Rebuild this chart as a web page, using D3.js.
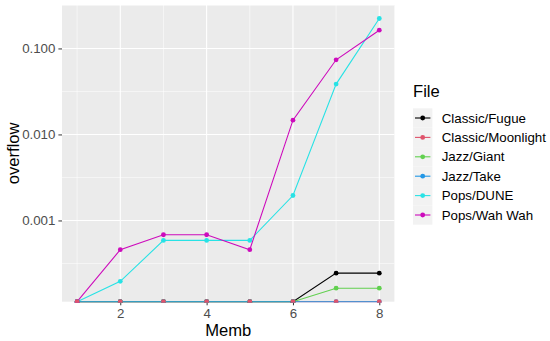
<!DOCTYPE html>
<html>
<head>
<meta charset="utf-8">
<script src="https://cdn.jsdelivr.net/npm/d3@7"></script>
<style>
  body { margin: 0; background: #fff; }
  svg { font-family: "Liberation Sans", Arial, sans-serif; display: block; }
</style>
</head>
<body>
<svg></svg>
<script>
// Data (0 = no overflow, drawn at the bottom edge like -Inf)
const memb = [1, 2, 3, 4, 5, 6, 7, 8];
const files = ["Classic/Fugue", "Classic/Moonlight", "Jazz/Giant", "Jazz/Take", "Pops/DUNE", "Pops/Wah Wah"];
const fugue     = [0, 0, 0, 0, 0, 0, 0.000244, 0.000244];
const moonlight = [0, 0, 0, 0, 0, 0, 0, 0];
const giant     = [0, 0, 0, 0, 0, 0, 0.000163, 0.000163];
const take      = [0, 0, 0, 0, 0, 0, 0, 0];
const dune      = [0, 0.000196, 0.000586, 0.000586, 0.000586, 0.00195, 0.0385, 0.223];
const wahwah    = [0, 0.000457, 0.000682, 0.000682, 0.000457, 0.01466, 0.0738, 0.163];
const xTicks = [2, 4, 6, 8];
const yTicks = [0.001, 0.01, 0.1];
const colors = ["#000000", "#DF536B", "#61D04F", "#2297E6", "#28E2E5", "#CD0BBC"];

const seriesValues = [fugue, moonlight, giant, take, dune, wahwah];
const series = files.map((f, i) => ({
    name: f,
    color: colors[i],
    values: memb.map((m, j) => ({ memb: m, overflow: seriesValues[i][j] }))
}));

const W = 550, H = 341;
const margin = { top: 5, right: 155.6, bottom: 39.3, left: 62 },
      width = W - margin.left - margin.right,
      height = H - margin.top - margin.bottom;

const root = d3.select("svg").attr("width", W).attr("height", H);

const svg = root.append("g")
    .attr("transform", `translate(${margin.left},${margin.top})`);

// x scale with ggplot style 5% expansion
const xPad = (d3.max(memb) - d3.min(memb)) * 0.05;
const x = d3.scaleLinear()
    .domain([d3.min(memb) - xPad, d3.max(memb) + xPad])
    .range([0, width]);

// log y scale from finite (positive) values, expanded 5% in log space
const positives = seriesValues.flat().filter(v => v > 0);
const lo = Math.log10(d3.min(positives)), hi = Math.log10(d3.max(positives));
const yPad = (hi - lo) * 0.05;
const y = d3.scaleLog()
    .domain([Math.pow(10, lo - yPad), Math.pow(10, hi + yPad)])
    .range([height, 0]);
const yPos = v => v > 0 ? y(v) : height;

// panel background
svg.append("rect")
    .attr("width", width).attr("height", height)
    .attr("fill", "#EBEBEB");

// minor grid
const xMinor = [1, 3, 5, 7];
const yMinor = yTicks.map(t => t * Math.sqrt(10)).concat([yTicks[0] / Math.sqrt(10)])
    .filter(v => y(v) >= 0 && y(v) <= height);
svg.append("g").selectAll("line").data(xMinor).join("line")
    .attr("x1", d => x(d)).attr("x2", d => x(d))
    .attr("y1", 0).attr("y2", height)
    .attr("stroke", "#fff").attr("stroke-width", 0.55);
svg.append("g").selectAll("line").data(yMinor).join("line")
    .attr("x1", 0).attr("x2", width)
    .attr("y1", d => y(d)).attr("y2", d => y(d))
    .attr("stroke", "#fff").attr("stroke-width", 0.55);

// major grid
svg.append("g").selectAll("line").data(xTicks).join("line")
    .attr("x1", d => x(d)).attr("x2", d => x(d))
    .attr("y1", 0).attr("y2", height)
    .attr("stroke", "#fff").attr("stroke-width", 1.1);
svg.append("g").selectAll("line").data(yTicks).join("line")
    .attr("x1", 0).attr("x2", width)
    .attr("y1", d => y(d)).attr("y2", d => y(d))
    .attr("stroke", "#fff").attr("stroke-width", 1.1);

// axes
const xAxis = svg.append("g")
    .attr("transform", `translate(0,${height})`)
    .call(d3.axisBottom(x).tickValues(xTicks).tickSize(3.6).tickPadding(3))
    .call(g => g.select(".domain").remove());
xAxis.selectAll(".tick line").attr("stroke", "#333");
xAxis.selectAll("text").attr("fill", "#4D4D4D").style("font-size", "13.3px");

const yAxis = svg.append("g")
    .call(d3.axisLeft(y).tickValues(yTicks).tickFormat(d3.format(".3f")).tickSize(3.6).tickPadding(3))
    .call(g => g.select(".domain").remove());
yAxis.selectAll(".tick line").attr("stroke", "#333");
yAxis.selectAll("text").attr("fill", "#4D4D4D").style("font-size", "13.3px");

// clip to panel (a hair below so the -Inf line stays visible)
svg.append("clipPath").attr("id", "panel")
    .append("rect").attr("width", width).attr("height", height + 1);
const plot = svg.append("g").attr("clip-path", "url(#panel)");

const line = d3.line()
    .x(d => x(d.memb))
    .y(d => yPos(d.overflow));

plot.selectAll("path.series").data(series).join("path")
    .attr("class", "series")
    .attr("fill", "none")
    .attr("stroke", d => d.color)
    .attr("stroke-width", 1.1)
    .attr("d", d => line(d.values));

// points: Moonlight drawn last so its dots show on the bottom edge
const pointOrder = [0, 2, 3, 4, 5, 1].map(i => series[i]);
pointOrder.forEach(s => {
    plot.append("g").selectAll("circle").data(s.values).join("circle")
        .attr("cx", d => x(d.memb))
        .attr("cy", d => yPos(d.overflow))
        .attr("r", 2.4)
        .attr("fill", s.color);
});

// axis titles
svg.append("text")
    .attr("x", width / 2)
    .attr("y", height + 34.5)
    .attr("text-anchor", "middle")
    .style("font-size", "16.6px")
    .text("Memb");

svg.append("text")
    .attr("transform", "rotate(-90)")
    .attr("x", -height / 2)
    .attr("y", -margin.left + 18.5)
    .attr("text-anchor", "middle")
    .style("font-size", "16.6px")
    .text("overflow");

// legend
const legend = root.append("g").attr("transform", "translate(413,0)");
legend.append("text")
    .attr("x", 0).attr("y", 97)
    .style("font-size", "16.6px")
    .text("File");

const keyH = 19.4, keyTop = 108.3;
const keys = legend.selectAll("g.key").data(series).join("g")
    .attr("class", "key")
    .attr("transform", (d, i) => `translate(0,${keyTop + i * keyH})`);
keys.append("rect")
    .attr("width", 19.4).attr("height", keyH)
    .attr("fill", "#F2F2F2");
keys.append("line")
    .attr("x1", 2).attr("x2", 17.4)
    .attr("y1", keyH / 2).attr("y2", keyH / 2)
    .attr("stroke", d => d.color).attr("stroke-width", 1.1);
keys.append("circle")
    .attr("cx", 9.7).attr("cy", keyH / 2).attr("r", 2.4)
    .attr("fill", d => d.color);
keys.append("text")
    .attr("x", 28.7).attr("y", keyH / 2)
    .attr("dy", "0.35em")
    .style("font-size", "13.3px")
    .text(d => d.name);
</script>
</body>
</html>
